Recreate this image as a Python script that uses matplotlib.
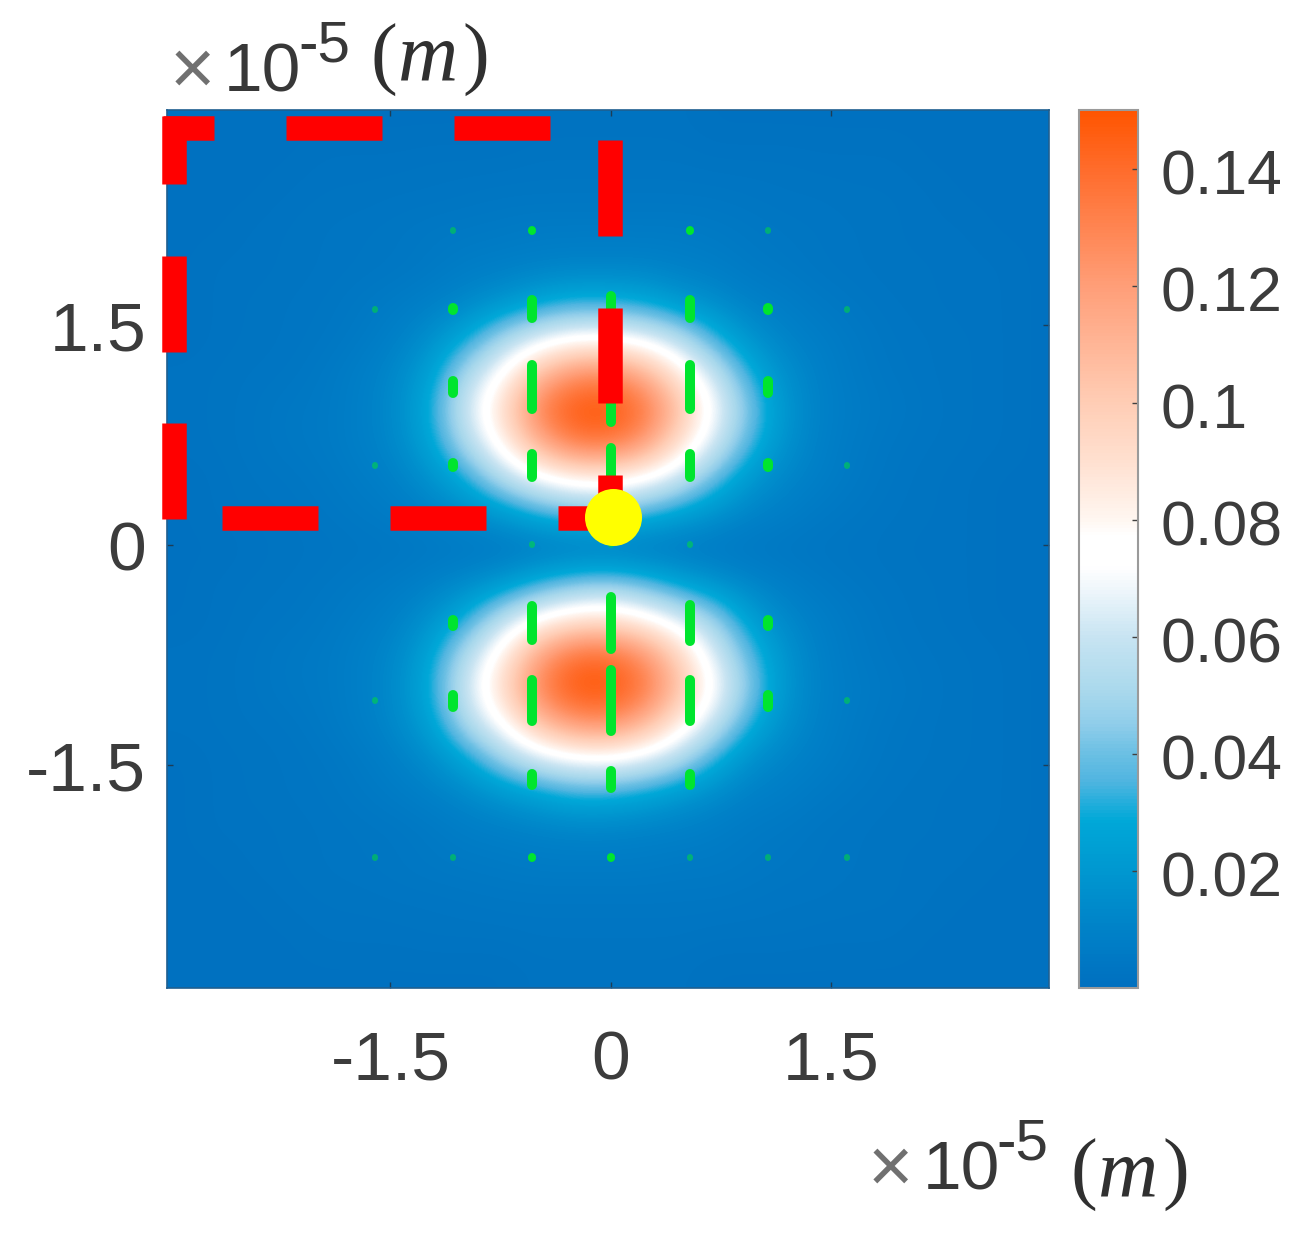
import numpy as np
import matplotlib
matplotlib.use("Agg")
import matplotlib.pyplot as plt
from matplotlib.collections import LineCollection
from matplotlib.colors import LinearSegmentedColormap
from matplotlib.transforms import ScaledTranslation

W, H = 1310, 1251
PX = 72 / 100

# scalar field; rows from y = 3 down to y = -3, columns x = -3 .. 3, step 0.25
grid_x = [-3.02, 2.98]
grid_y = [-3.02, 2.97]
field_top = [
 [.001,.001,.001,.001,.001,.001,.001,.001,.001,.001,.002,.002,.002,.002,.002,.001,.001,.001,.001,.001,.001,.001,.001,.001,.001],
 [.001,.001,.001,.001,.002,.002,.002,.0025,.0025,.0025,.003,.003,.003,.003,.003,.0025,.0025,.0025,.002,.002,.002,.001,.001,.001,.001],
 [.001,.001,.001,.002,.0025,.0025,.003,.003,.0035,.004,.004,.004,.004,.004,.004,.004,.0035,.003,.003,.0025,.0025,.002,.001,.001,.001],
 [.001,.001,.002,.0025,.003,.0035,.004,.005,.0055,.006,.007,.007,.007,.007,.007,.006,.005,.004,.0035,.003,.0025,.002,.002,.001,.001],
 [.001,.002,.002,.0025,.003,.0035,.004,.0055,.008,.009,.010,.011,.011,.011,.0095,.0085,.006,.005,.0035,.003,.0025,.0025,.002,.002,.001],
 [.001,.002,.0025,.003,.0035,.005,.007,.0095,.013,.018,.026,.031,.031,.028,.020,.015,.010,.008,.0055,.004,.003,.0025,.002,.002,.001],
 [.001,.002,.0025,.003,.004,.006,.0095,.016,.028,.049,.064,.074,.074,.068,.055,.033,.018,.011,.008,.0055,.0035,.003,.0025,.002,.001],
 [.002,.0025,.003,.0035,.0055,.0085,.013,.024,.052,.075,.106,.125,.13,.114,.086,.060,.031,.016,.0095,.006,.004,.003,.0025,.002,.001],
 [.002,.0025,.0035,.005,.006,.009,.014,.030,.062,.091,.132,.149,.15,.139,.107,.072,.042,.019,.010,.007,.005,.0035,.0025,.002,.001],
 [.002,.0025,.0035,.005,.006,.009,.013,.026,.053,.08,.112,.134,.137,.123,.091,.063,.035,.017,.0095,.006,.004,.003,.0025,.002,.001],
 [.001,.002,.003,.0035,.005,.007,.010,.017,.030,.053,.070,.08,.082,.074,.060,.038,.020,.012,.0085,.0055,.0035,.0025,.002,.001,.001],
 [.001,.002,.0025,.003,.004,.0055,.007,.010,.014,.020,.030,.037,.038,.033,.024,.017,.011,.0085,.0055,.004,.003,.0025,.002,.001,.001],
]
field_mid = [
 [.001,.001,.002,.0025,.003,.0035,.004,.005,.0055,.0055,.0055,.0055,.005,.005,.0055,.0055,.005,.004,.0035,.003,.0025,.002,.002,.001,.001],
]
field_bottom = [
 [.001,.002,.0025,.003,.004,.0055,.007,.010,.014,.020,.031,.040,.044,.037,.026,.018,.012,.0085,.0055,.004,.003,.0025,.002,.001,.001],
 [.001,.002,.003,.0035,.005,.007,.010,.017,.031,.056,.076,.087,.09,.08,.065,.047,.024,.013,.0085,.0055,.0035,.0025,.002,.001,.001],
 [.002,.0025,.0035,.005,.006,.009,.013,.026,.054,.082,.117,.138,.14,.126,.097,.065,.037,.018,.0095,.006,.004,.003,.0025,.002,.001],
 [.002,.0025,.0035,.005,.006,.009,.014,.030,.062,.092,.13,.149,.15,.138,.107,.074,.044,.019,.010,.007,.005,.0035,.0025,.002,.001],
 [.002,.0025,.003,.0035,.0055,.0085,.013,.024,.052,.074,.104,.122,.126,.111,.084,.059,.031,.016,.0095,.006,.004,.003,.0025,.002,.001],
 [.001,.002,.0025,.003,.004,.006,.0095,.015,.026,.046,.061,.07,.072,.065,.053,.031,.016,.011,.008,.0055,.0035,.003,.0025,.002,.001],
 [.001,.002,.0025,.003,.0035,.005,.007,.0095,.013,.018,.024,.030,.030,.026,.019,.014,.0095,.008,.0055,.004,.003,.0025,.002,.002,.001],
 [.001,.002,.002,.0025,.003,.0035,.004,.0055,.008,.009,.010,.011,.011,.010,.0095,.008,.006,.005,.0035,.003,.0025,.0025,.002,.002,.001],
 [.001,.001,.002,.0025,.003,.0035,.004,.005,.0055,.006,.007,.007,.007,.007,.006,.006,.005,.004,.0035,.003,.0025,.002,.002,.001,.001],
 [.001,.001,.001,.002,.0025,.0025,.003,.003,.0035,.004,.004,.004,.004,.004,.004,.004,.0035,.003,.003,.0025,.0025,.002,.001,.001,.001],
 [.001,.001,.001,.001,.002,.002,.002,.0025,.0025,.0025,.003,.003,.003,.003,.003,.0025,.0025,.0025,.002,.002,.002,.001,.001,.001,.001],
 [.001,.001,.001,.001,.001,.001,.001,.001,.001,.001,.002,.002,.002,.002,.002,.001,.001,.001,.001,.001,.001,.001,.001,.001,.001],
]
v_min, v_max = 0.0, 0.15
cbar_ticks = [0.02, 0.04, 0.06, 0.08, 0.10, 0.12, 0.14]
cbar_labels = ["0.02", "0.04", "0.06", "0.08", "0.1", "0.12", "0.14"]
axis_ticks = [-1.5, 0, 1.5]
axis_labels = ["-1.5", "0", "1.5"]

# field direction marks: vertical length per grid node (rows top to bottom, data units)
arrow_x = [-1.605, -1.075, -0.537, 0.0, 0.537, 1.066, 1.605]
arrow_y = [2.147, 1.61, 1.08, 0.546, 0.007, -0.53, -1.06, -1.60, -2.13]
arrow_len = [
 [.00, .034, .054, .054, .054, .034, .00],
 [.034, .082, .19, .245, .19, .082, .034],
 [.034, .156, .374, .544, .374, .156, .034],
 [.034, .095, .225, .30, .225, .095, .034],
 [.00, .00, .034, .034, .034, .00, .00],
 [.034, .109, .306, .422, .313, .109, .034],
 [.034, .15, .347, .483, .347, .15, .034],
 [.034, .054, .143, .184, .143, .054, .034],
 [.03, .034, .054, .054, .034, .034, .03],
]

# dashed red box pieces (data units)
red_top_y = 2.849
red_top_x = [(-3.048, -2.70), (-2.211, -1.558), (-1.068, -0.415)]
red_left_x = -2.973
red_left_y = [(2.931, 2.468), (1.977, 1.322), (0.832, 0.177)]
red_right_x = -0.005
red_right_y = [(2.768, 2.113), (1.622, 0.968), (0.477, 0.10)]
red_bottom_y = 0.184
red_bottom_x = [(-2.646, -1.993), (-1.503, -0.85), (-0.361, 0.0)]
probe_x, probe_y = 0.014, 0.19

cmap = LinearSegmentedColormap.from_list("bwo", [
    (0.0, "#0070C0"), (0.067, "#0082C8"), (0.133, "#0098D0"), (0.19, "#00A8D8"),
    (0.235, "#50B5E0"), (0.267, "#6CC0E4"), (0.30, "#90CDEA"), (0.335, "#A8D8EC"),
    (0.40, "#C8E4F2"), (0.453, "#EEF6FB"), (0.48, "#FFFFFF"), (0.515, "#FFFFFF"),
    (0.535, "#FFF6F0"), (0.60, "#FFE0D0"), (0.667, "#FFCDB5"), (0.80, "#FF9E78"),
    (0.933, "#FF6C2C"), (1.0, "#FF5500")])


def fig_xy(px, py):
    return px / W, 1 - py / H


plt.rcParams["font.family"] = ["Liberation Sans", "DejaVu Sans"]
fig = plt.figure(figsize=(W / 100, H / 100), dpi=100)
ax = fig.add_axes([167 / W, 1 - 988 / H, (1049 - 167) / W, (988 - 110) / H])

field = np.array(field_top + field_mid + field_bottom)
im = ax.imshow(field, extent=[grid_x[0], grid_x[1], grid_y[0], grid_y[1]], origin="upper",
               cmap=cmap, vmin=v_min, vmax=v_max, interpolation="bicubic", aspect="auto", zorder=1)
ax.set_xlim(-3.02, 2.98)
ax.set_ylim(-3.02, 2.97)

ax.set_xticks(axis_ticks, axis_labels)
ax.set_yticks(axis_ticks, axis_labels)
ax.tick_params(direction="in", length=4, width=1, color="#1d3d55", top=True, right=True,
               labelsize=50, labelcolor="#3c3c3c")
ax.tick_params(axis="x", pad=30)
ax.tick_params(axis="y", pad=15)
for s in ax.spines.values():
    s.set_color("#1f5f90")
    s.set_linewidth(1.2)

# green marks in three visual weights
groups = {"dim": [], "small": [], "big": []}
widths = {"dim": 6, "small": 8, "big": 10}
alphas = {"dim": 0.5, "small": 1.0, "big": 1.0}
unit = 147.0
for r, y in enumerate(arrow_y):
    for c, x in enumerate(arrow_x):
        h = arrow_len[r][c]
        if h <= 0:
            continue
        k = "dim" if h < 0.04 else ("small" if h < 0.08 else "big")
        half = max((h - widths[k] / unit) / 2, 0.002)
        groups[k].append([(x, y - half), (x, y + half)])
for k, segs in groups.items():
    ax.add_collection(LineCollection(segs, colors="#00E52E", linewidths=widths[k] * PX,
                                     capstyle="round", alpha=alphas[k], zorder=3))

# red dashed box
red = dict(color="#FF0000", lw=24.5 * PX, solid_capstyle="butt", clip_on=False, zorder=4)
for a, b in red_top_x:
    ax.plot([a, b], [red_top_y, red_top_y], **red)
for a, b in red_left_y:
    ax.plot([red_left_x, red_left_x], [a, b], **red)
for a, b in red_right_y:
    ax.plot([red_right_x, red_right_x], [a, b], **red)
for a, b in red_bottom_x:
    ax.plot([a, b], [red_bottom_y, red_bottom_y], **red)
ax.plot([probe_x], [probe_y], "o", color="#FFFF00", ms=57 * PX, mew=0, zorder=5)

# colour bar
cax = fig.add_axes([1079 / W, 1 - 988 / H, (1138 - 1079) / W, (988 - 110) / H])
cb = fig.colorbar(im, cax=cax)
cb.set_ticks(cbar_ticks, labels=cbar_labels)
cax.tick_params(direction="in", length=4, width=1, color="#404040", labelsize=45,
                labelcolor="#3c3c3c", pad=16)
shift = ScaledTranslation(0, -3 / 100, fig.dpi_scale_trans)
for lab in cax.get_yticklabels():
    lab.set_transform(lab.get_transform() + shift)
cb.outline.set_edgecolor("#9a9a9a")
cb.outline.set_linewidth(1.5)


# multiplier labels
def unit_label(x_cross, x_ten, x_exp, x_par, base_ten, base_exp, base_par):
    tx, ty = fig_xy(x_cross, base_ten + 2)
    fig.text(tx, ty, "\u00d7", fontsize=56, color="#707070", ha="left", va="baseline")
    tx, ty = fig_xy(x_ten, base_ten)
    fig.text(tx, ty, "10", fontsize=50, color="#383838", ha="left", va="baseline")
    tx, ty = fig_xy(x_exp, base_exp)
    fig.text(tx, ty, "-5", fontsize=42, color="#383838", ha="left", va="baseline")
    tx, ty = fig_xy(x_par, base_par)
    fig.text(tx, ty, "(", fontsize=58, color="#303030", ha="left", va="baseline", family="Liberation Serif")
    tx, ty = fig_xy(x_par + 28, base_par)
    fig.text(tx, ty, "m", fontsize=60, color="#303030", ha="left", va="baseline", family="Liberation Serif", style="italic")
    tx, ty = fig_xy(x_par + 92, base_par)
    fig.text(tx, ty, ")", fontsize=58, color="#303030", ha="left", va="baseline", family="Liberation Serif")


unit_label(170, 224, 298, 370, 92, 62, 80)
unit_label(868, 923, 996, 1070, 1190, 1160, 1195)

fig.savefig("out.png", dpi=100)
